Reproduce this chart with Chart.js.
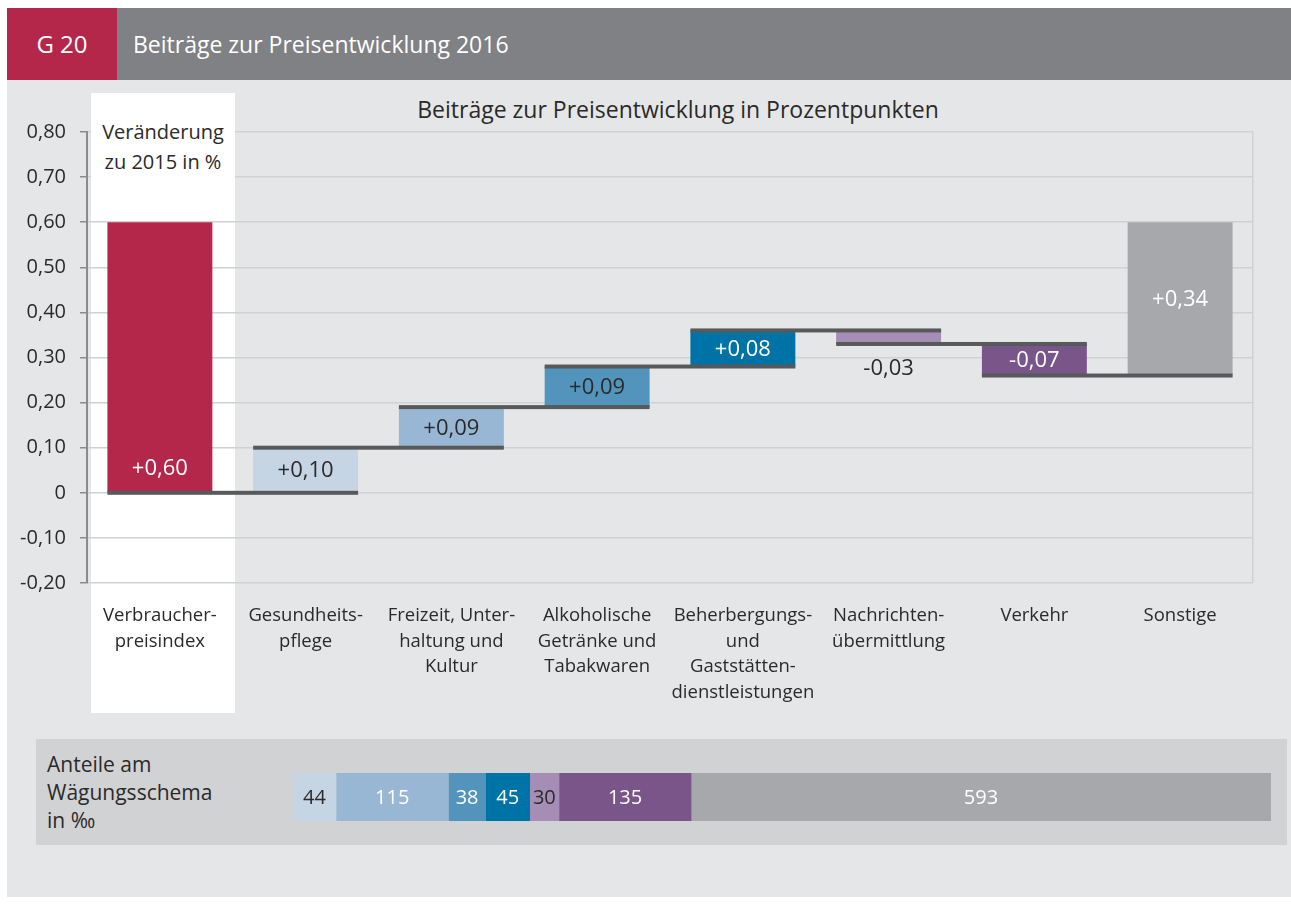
<!DOCTYPE html>
<html><head><meta charset="utf-8">
<script src="https://cdn.jsdelivr.net/npm/chart.js@4.4.1/dist/chart.umd.min.js"></script>
<style>
html,body{margin:0;padding:0;background:#fff;width:1291px;height:904px;overflow:hidden;font-family:"Open Sans",sans-serif;color:#2b2a29;}
.abs{position:absolute;}
#panel{left:7px;top:8px;width:1284px;height:889px;background:#e5e6e8;}
#hdrRed{left:7px;top:8px;width:110px;height:72px;background:#b5274a;color:#fff;font-size:24px;font-weight:500;line-height:72px;text-align:center;}
#hdrGray{left:117px;top:8px;width:1174px;height:72px;background:#808184;color:#fff;font-size:23px;font-weight:500;line-height:72px;}
#hdrGray span{padding-left:16px;}
#whiteCol{left:91px;top:93px;width:144px;height:620px;background:#fff;}
#whiteTxt{left:91px;top:117px;width:144px;height:64px;background:#fff;text-align:center;font-size:20px;line-height:30px;}
#title{left:278px;top:93px;width:800px;text-align:center;font-size:23px;line-height:32px;}
#wPanel{left:36px;top:739px;width:1251px;height:106px;background:#d1d2d4;}
#wTxt{left:47px;top:750px;font-size:21px;line-height:28px;}
#c1{left:0;top:90px;}
#c2{left:293px;top:773px;}
</style></head>
<body>
<div id="panel" class="abs"></div>
<div id="hdrRed" class="abs">G 20</div>
<div id="hdrGray" class="abs"><span>Beiträge zur Preisentwicklung 2016</span></div>
<div id="whiteCol" class="abs"></div>
<div id="title" class="abs">Beiträge zur Preisentwicklung in Prozentpunkten</div>
<div id="wPanel" class="abs"></div>
<div id="wTxt" class="abs">Anteile am<br>Wägungsschema<br>in ‰</div>
<canvas id="c1" class="abs" width="1291" height="620"></canvas>
<div id="whiteTxt" class="abs">Veränderung<br>zu 2015 in %</div>
<canvas id="c2" class="abs" width="978" height="48"></canvas>
<script>
// ---- data ----
const categories = [
  ["Verbraucher-","preisindex"],
  ["Gesundheits-","pflege"],
  ["Freizeit, Unter-","haltung und","Kultur"],
  ["Alkoholische","Getränke und","Tabakwaren"],
  ["Beherbergungs-","und","Gaststätten-","dienstleistungen"],
  ["Nachrichten-","übermittlung"],
  ["Verkehr"],
  ["Sonstige"]
];
const contributions = [0.60, 0.10, 0.09, 0.09, 0.08, -0.03, -0.07, 0.34];
const yTicks = [-0.20,-0.10,0,0.10,0.20,0.30,0.40,0.50,0.60,0.70,0.80];
const weightValues = [44, 115, 38, 45, 30, 135, 593];

// ---- styles ----
const barColors = ['#b5274a','#c5d5e4','#98b7d4','#5294bb','#0073a6','#a68db5','#7a558a','#a7a8ab'];
const labelColors = ['#fff','#2b2a29','#2b2a29','#2b2a29','#fff','#2b2a29','#fff','#fff'];
const weightColors = barColors.slice(1);
const weightLabelColors = ['#2b2a29','#fff','#fff','#fff','#2b2a29','#fff','#fff'];
const FONT = '"Open Sans", sans-serif';

// waterfall ranges built from contributions
const ranges = [];
let run = 0;
contributions.forEach((v, i) => {
  if (i === 0) { ranges.push([0, v]); return; }
  const start = run;
  run = Math.round((run + v) * 100) / 100;
  ranges.push([start, run]);
});

const fmt = v => (v > 0 ? '+' : '') + v.toFixed(2).replace('.', ',');

const waterfallPlugin = {
  id: 'waterfallDeco',
  afterDatasetsDraw(chart) {
    const ctx = chart.ctx;
    const meta = chart.getDatasetMeta(0);
    const ys = chart.scales.y;
    const area = chart.chartArea;
    ctx.save();
    ctx.fillStyle = '#d0d1d3';
    ctx.fillRect(area.right - 1, area.top, 1.5, area.bottom - area.top);
    ctx.fillStyle = '#58595b';
    for (let i = 0; i < meta.data.length - 1; i++) {
      const a = meta.data[i], b = meta.data[i + 1];
      const level = ranges[i + 1][0];
      const y = ys.getPixelForValue(level);
      const x1 = a.x - a.width / 2, x2 = b.x + b.width / 2;
      ctx.fillRect(x1, y - 2, x2 - x1, 4);
    }
    ctx.font = '22px ' + FONT;
    ctx.textAlign = 'center';
    ctx.textBaseline = 'middle';
    meta.data.forEach((bar, i) => {
      const top = Math.min(bar.y, bar.base), bottom = Math.max(bar.y, bar.base);
      let y;
      if (i === 0) y = bottom - 24;
      else if (bottom - top < 24) y = bottom + 24;
      else y = (top + bottom) / 2;
      ctx.fillStyle = labelColors[i];
      ctx.fillText(fmt(contributions[i]), bar.x, y + 1);
    });
    ctx.restore();
  }
};

new Chart(document.getElementById('c1'), {
  type: 'bar',
  data: {
    labels: categories,
    datasets: [{
      data: ranges,
      backgroundColor: barColors,
      borderWidth: 0,
      barPercentage: 0.72,
      categoryPercentage: 1.0
    }]
  },
  options: {
    responsive: false,
    devicePixelRatio: 1,
    animation: false,
    layout: { padding: { left: 0, right: 38, top: 42, bottom: 0 } },
    plugins: { legend: { display: false }, tooltip: { enabled: false } },
    scales: {
      x: {
        grid: { display: false },
        border: { display: false },
        ticks: { color: '#2b2a29', font: { family: FONT, size: 18.5, lineHeight: 1.38 }, padding: 12, maxRotation: 0, autoSkip: false },
        afterFit(s) { s.height = 127; }
      },
      y: {
        min: -0.2, max: 0.8,
        afterBuildTicks(s) { s.ticks = yTicks.map(v => ({ value: v })); },
        grid: { color: '#d0d1d3', lineWidth: 1.5, tickColor: '#8a8b8d', tickLength: 7, tickWidth: 1.5 },
        border: { color: '#8a8b8d', width: 2 },
        ticks: {
          color: '#2b2a29', font: { family: FONT, size: 20 }, padding: 14,
          callback: v => Math.abs(v) < 1e-9 ? '0' : v.toFixed(2).replace('.', ',')
        },
        afterFit(s) { s.width = 87; }
      }
    }
  },
  plugins: [waterfallPlugin]
});

const weightLabelPlugin = {
  id: 'weightLabels',
  afterDatasetsDraw(chart) {
    const ctx = chart.ctx;
    ctx.save();
    ctx.font = '20px ' + FONT;
    ctx.textAlign = 'center';
    ctx.textBaseline = 'middle';
    chart.data.datasets.forEach((ds, i) => {
      const el = chart.getDatasetMeta(i).data[0];
      ctx.fillStyle = weightLabelColors[i];
      ctx.fillText(String(weightValues[i]), (el.x + el.base) / 2, el.y + 1);
    });
    ctx.restore();
  }
};

new Chart(document.getElementById('c2'), {
  type: 'bar',
  data: {
    labels: [''],
    datasets: weightValues.map((w, i) => ({
      data: [w],
      backgroundColor: weightColors[i],
      borderWidth: 0,
      barPercentage: 1,
      categoryPercentage: 1
    }))
  },
  options: {
    indexAxis: 'y',
    responsive: false,
    devicePixelRatio: 1,
    animation: false,
    layout: { padding: 0 },
    plugins: { legend: { display: false }, tooltip: { enabled: false } },
    scales: {
      x: { stacked: true, min: 0, max: 1000, display: false },
      y: { stacked: true, display: false }
    }
  },
  plugins: [weightLabelPlugin]
});
</script>
</body></html>
